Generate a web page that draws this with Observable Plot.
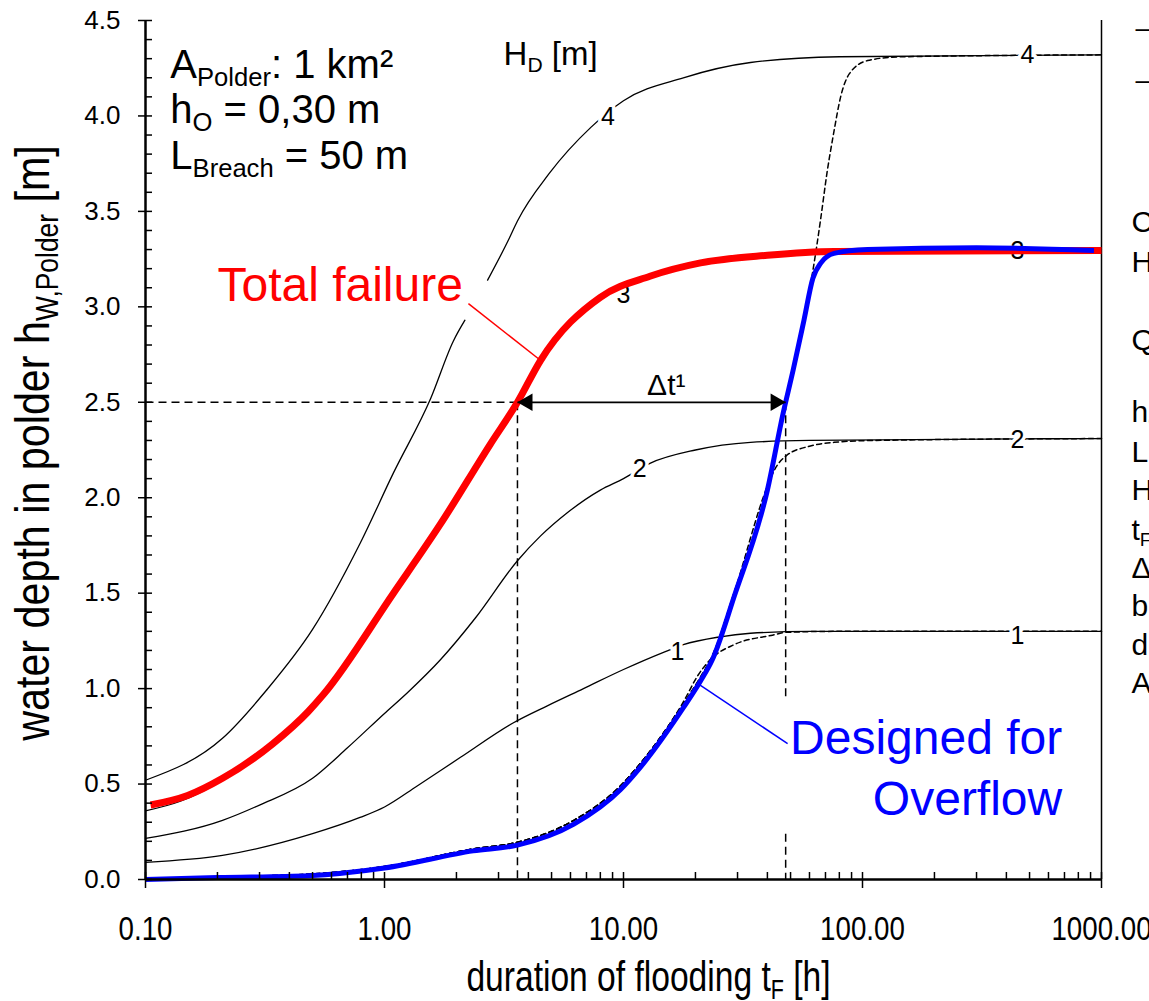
<!DOCTYPE html>
<html>
<head>
<meta charset="utf-8">
<script src="https://cdn.jsdelivr.net/npm/d3@7"></script>
<script src="https://cdn.jsdelivr.net/npm/@observablehq/plot@0.6"></script>
<style>
html,body{margin:0;padding:0;background:#fff;overflow:hidden}
</style>
</head>
<body>
<div id="chart"></div>
<script>
// ---------- fonts ----------
const SANS = "'Liberation Sans', Arial, sans-serif";

// ---------- axis ticks ----------
const xMajor = [0.1, 1, 10, 100, 1000];
const xMinor = [0.2,0.3,0.4,0.5,0.6,0.7,0.8,0.9, 2,3,4,5,6,7,8,9, 20,30,40,50,60,70,80,90, 200,300,400,500,600,700,800,900];
const yMajor = [0, 0.5, 1, 1.5, 2, 2.5, 3, 3.5, 4, 4.5];
const yMinor = [0,0.1,0.2,0.3,0.4,0.5,0.6,0.7,0.8,0.9,1,1.1,1.2,1.3,1.4,1.5,1.6,1.7,1.8,1.9,2,2.1,2.2,2.3,2.4,2.5,2.6,2.7,2.8,2.9,3,3.1,3.2,3.3,3.4,3.5,3.6,3.7,3.8,3.9,4,4.1,4.2,4.3,4.4,4.5];

// ---------- series: [t_F (h), h_W,Polder (m)] ----------
// total failure curves (thin solid) for H_D = 1..4 m
const solidHD1 = [[0.1,0.09],[0.21,0.126],[0.5,0.24],[0.79,0.325],[1.0,0.38],[1.37,0.49],[2.08,0.64],[3.45,0.82],[4.8,0.91],[6.8,1.0],[10,1.1],[14.7,1.19],[17.8,1.23],[25,1.27],[34,1.29],[60,1.3],[1000,1.3]];
const solidHD2 = [[0.1,0.215],[0.21,0.31],[0.3,0.39],[0.5,0.53],[0.7,0.69],[1.0,0.87],[1.25,0.98],[1.71,1.15],[2.4,1.37],[3.6,1.67],[4.5,1.8],[5.8,1.92],[8,2.04],[10,2.1],[12.9,2.18],[20,2.25],[34,2.29],[60,2.3],[1000,2.31]];
const solidHD3 = [[0.1,0.36],[0.14,0.41],[0.21,0.52],[0.34,0.72],[0.48,0.88],[0.556,0.97],[1.09,1.5],[1.71,1.86],[2.77,2.28],[3.6,2.5],[4.5,2.72],[8,3.05],[12.9,3.17],[21,3.24],[40,3.28],[76,3.3],[1000,3.3]];
const solidHD4 = [[0.1,0.52],[0.21,0.74],[0.32,0.99],[0.5,1.31],[0.79,1.76],[1.09,2.13],[1.56,2.52],[1.94,2.82],[2.17,2.93],[2.4,NaN],[2.7,3.14],[3.3,3.35],[3.6,3.45],[4.9,3.7],[7.3,3.94],[10,4.08],[17.8,4.2],[34,4.28],[80,4.31],[1000,4.32]];
// designed-for-overflow curves (dashed) for H_D = 1, 2, 4 m
const overflowHD1 = [[0.15,0.012],[0.48,0.028],[1.0,0.068],[2.35,0.16],[3.6,0.195],[6.2,0.31],[9.7,0.49],[11.8,0.61],[17.8,0.93],[20.5,1.07],[23,1.15],[29,1.23],[42,1.28],[48,1.295],[80,1.3],[1000,1.3]];
const overflowHD2 = [[0.15,0.012],[0.48,0.028],[1.0,0.068],[2.35,0.16],[3.6,0.195],[6.2,0.31],[9.7,0.49],[11.8,0.61],[17.8,0.92],[21,1.06],[23.5,1.17],[29,1.5],[40,2.06],[43,2.15],[48,2.22],[60,2.27],[76,2.29],[110,2.3],[1000,2.31]];
const overflowHD4 = [[0.15,0.012],[0.48,0.028],[1.0,0.068],[2.35,0.16],[3.6,0.195],[6.2,0.31],[9.7,0.49],[11.8,0.61],[17.8,0.92],[21,1.06],[23.5,1.17],[29,1.5],[40,2.06],[46.5,2.46],[51.3,2.69],[56.9,2.95],[62,3.19],[67,3.47],[71,3.7],[76,3.92],[81,4.1],[88,4.22],[105,4.29],[145,4.31],[1000,4.32]];
// highlighted curves for H_D = 3 m
const totalFailure = [[0.105,0.39],[0.15,0.44],[0.21,0.53],[0.34,0.71],[0.48,0.88],[0.556,0.97],[1.09,1.5],[1.71,1.86],[2.77,2.28],[3.6,2.5],[4.5,2.72],[8,3.05],[12.9,3.16],[21,3.23],[40,3.27],[76,3.29],[1000,3.295]];
const designedOverflow = [[0.1,0.0],[0.2,0.01],[0.48,0.02],[1.0,0.06],[2.35,0.15],[3.6,0.18],[6.2,0.29],[9.7,0.47],[11.8,0.59],[17.8,0.9],[21,1.04],[23.5,1.15],[29,1.48],[40,2.04],[46.5,2.44],[51.3,2.67],[56.9,2.93],[62,3.15],[67,3.23],[76,3.28],[105,3.3],[300,3.31],[930,3.295]];

// ---------- Δt construction ----------
const dtLevel = 2.5;
const dtStart = 3.6;     // total failure reaches 2.5 m
const dtEnd = 47.7;      // designed for overflow reaches 2.5 m
const refLines = [
  {t1: 0.1, t2: dtStart, h1: dtLevel, h2: dtLevel},
  {t1: dtStart, t2: dtStart, h1: dtLevel, h2: 0},
  {t1: dtEnd, t2: dtEnd, h1: dtLevel, h2: 0.95},
  {t1: dtEnd, t2: dtEnd, h1: 0.24, h2: 0}
];
const dtArrow = [{t1: dtStart, t2: dtEnd, h1: dtLevel, h2: dtLevel}];
const dtLabel = [{t: 15.1, h: 2.59, text: "Δt¹"}];

// ---------- labels ----------
const curveLabels = [
  {t: 8.6, h: 3.995, text: "4"}, {t: 490, h: 4.32, text: "4"},
  {t: 10, h: 3.06, text: "3"}, {t: 445, h: 3.29, text: "3"},
  {t: 11.7, h: 2.15, text: "2"}, {t: 445, h: 2.30, text: "2"},
  {t: 16.8, h: 1.19, text: "1"}, {t: 445, h: 1.275, text: "1"}
];
const infoLines = [
  {t: 0.127, h: 4.265, text: "A_{Polder}: 1 km²"},
  {t: 0.127, h: 4.03, text: "h_{O} = 0,30 m"},
  {t: 0.127, h: 3.79, text: "L_{Breach} = 50 m"}
];
const hdTitle = [{t: 3.15, h: 4.32, text: "H_{D} [m]"}];
const redLabel = [{t: 0.2, h: 3.11, text: "Total failure"}];
const redLeader = [{t1: 2.245, h1: 3.017, t2: 4.49, h2: 2.72}];
const blueLabel = [{t: 685, h: 0.738, text: "Designed for"}, {t: 685, h: 0.419, text: "Overflow"}];
const blueLeader = [{t1: 20.4, h1: 1.027, t2: 48.6, h2: 0.712}];
const xTitle = "duration of flooding t_{F} [h]";
const yTitle = "water depth in polder h_{W,Polder} [m]";
// legend at the right (cut off by the page edge)
const legendSamples = [{h: 4.46, text: "———"}, {h: 4.19, text: "———"}];
const legendLines = [
  {h: 3.442, text: "Curves for total failure"},
  {h: 3.232, text: "H_{D} = 1, 2, 3, 4 m"},
  {h: 2.823, text: "Q_{Overflow} designed"},
  {h: 2.446, text: "h_{O} = overflow height"},
  {h: 2.237, text: "L_{Breach} = breach length"},
  {h: 2.038, text: "H_{D} = dike height"},
  {h: 1.828, text: "t_{F} = duration of flooding"},
  {h: 1.629, text: "Δt¹ = time gained"},
  {h: 1.430, text: "between total failure and"},
  {h: 1.226, text: "design for overflow"},
  {h: 1.027, text: "A_{Polder} = polder area"}
];

const rec = arr => arr.map(([t, h]) => ({t, h}));

const thin = {x: "t", y: "h", stroke: "#000", strokeWidth: 1.3, curve: "monotone-x"};
const dashed = {x: "t", y: "h", stroke: "#000", strokeWidth: 1.5, strokeDasharray: "5,3.5", curve: "monotone-x"};

const chart = Plot.plot({
  width: 1149,
  height: 1001,
  marginLeft: 145,
  marginRight: 48,
  marginTop: 20,
  marginBottom: 122,
  style: {fontFamily: SANS, background: "#fff", color: "#000"},
  x: {type: "log", domain: [0.1, 1000]},
  y: {domain: [0, 4.5]},
  marks: [
    Plot.ruleX([1000], {stroke: "#000", strokeWidth: 1.5}),
    Plot.line(rec(solidHD1), thin),
    Plot.line(rec(solidHD2), thin),
    Plot.line(rec(solidHD3), thin),
    Plot.line(rec(solidHD4), thin),
    Plot.line(rec(overflowHD1), dashed),
    Plot.line(rec(overflowHD2), dashed),
    Plot.line(rec(overflowHD4), dashed),
    Plot.link(refLines, {x1: "t1", x2: "t2", y1: "h1", y2: "h2", stroke: "#000", strokeWidth: 1.5, strokeDasharray: "8,5"}),
    Plot.text(curveLabels, {x: "t", y: "h", text: "text", fontSize: 25, fontFamily: SANS, fill: "#000", stroke: "#fff", strokeWidth: 7, paintOrder: "stroke"}),
    Plot.line(rec(totalFailure), {x: "t", y: "h", stroke: "#ff0000", strokeWidth: 7, strokeLinecap: "butt", curve: "monotone-x"}),
    Plot.line(rec(designedOverflow), {x: "t", y: "h", stroke: "#0000ff", strokeWidth: 5, strokeLinecap: "butt", curve: "monotone-x"}),
    Plot.link(redLeader, {x1: "t1", x2: "t2", y1: "h1", y2: "h2", stroke: "#ff0000", strokeWidth: 1.5}),
    Plot.link(blueLeader, {x1: "t1", x2: "t2", y1: "h1", y2: "h2", stroke: "#0000ff", strokeWidth: 1.5}),
    Plot.link(dtArrow, {x1: "t1", x2: "t2", y1: "h1", y2: "h2", stroke: "#000", strokeWidth: 1.8}),
    Plot.dot([{t: dtStart, h: dtLevel}], {x: "t", y: "h", symbol: "triangle", r: 6.5, fill: "#000", stroke: null, rotate: -90, dx: 10}),
    Plot.dot([{t: dtEnd, h: dtLevel}], {x: "t", y: "h", symbol: "triangle", r: 6.5, fill: "#000", stroke: null, rotate: 90, dx: -10}),
    Plot.text(dtLabel, {x: "t", y: "h", text: "text", fontSize: 30, fontFamily: SANS, fill: "#000"}),
    Plot.text(infoLines, {x: "t", y: "h", text: "text", textAnchor: "start", fontSize: 40, fontFamily: SANS, fill: "#000"}),
    Plot.text(hdTitle, {x: "t", y: "h", text: "text", textAnchor: "start", fontSize: 33, fontFamily: SANS, fill: "#000"}),
    Plot.text(redLabel, {x: "t", y: "h", text: "text", textAnchor: "start", fontSize: 48, fontFamily: SANS, fill: "#ff0000"}),
    Plot.text(blueLabel, {x: "t", y: "h", text: "text", textAnchor: "end", fontSize: 48, fontFamily: SANS, fill: "#0000ff"}),
    // axes
    Plot.axisY(yMajor, {anchor: "left", tickSize: 7, tickPadding: 18, tickFormat: d3.format(".1f"), fontSize: 26, fontFamily: SANS, label: null, strokeWidth: 1.5}),
    Plot.axisY(yMinor, {anchor: "left", tickSize: 7, dx: 7, text: null, label: null, strokeWidth: 1.5}),
    Plot.axisX(xMajor, {anchor: "bottom", tickSize: 9, tickPadding: 28, tickFormat: d3.format(".2f"), fontSize: 33, fontFamily: SANS, label: null, strokeWidth: 1.5}),
    Plot.axisX(xMajor.concat(xMinor), {anchor: "bottom", tickSize: 7, dy: -7, text: null, label: null, strokeWidth: 1.5}),
    Plot.ruleX([0.1], {stroke: "#000", strokeWidth: 2.5}),
    Plot.ruleY([0], {stroke: "#000", strokeWidth: 2.5}),
    Plot.text([xTitle], {frameAnchor: "bottom", text: d => d, textAnchor: "middle", lineAnchor: "middle", dx: 25, dy: 97.6, fontSize: 42, fontFamily: SANS, fill: "#000"}),
    Plot.text([yTitle], {frameAnchor: "left", text: d => d, rotate: -90, textAnchor: "middle", lineAnchor: "middle", dx: -112, dy: -7, fontSize: 48, fontFamily: SANS, fill: "#000"}),
    // legend (cut off at the right edge)
    Plot.text(legendSamples, {y: "h", text: "text", frameAnchor: "right", dx: 34, textAnchor: "start", fontSize: 28, fontFamily: SANS, fill: "#000"}),
    Plot.text(legendLines, {y: "h", text: "text", frameAnchor: "right", dx: 30, textAnchor: "start", fontSize: 30, fontFamily: SANS, fill: "#000"})
  ]
});
document.getElementById("chart").appendChild(chart);

// condensed (Arial Narrow-like) look: compress a text along its own direction
function condense(t, k) {
  const tr = t.getAttribute("transform") || "";
  t.setAttribute("transform", (tr + ` scale(${k},1)`).trim());
}
chart.querySelectorAll('g[aria-label="x-axis tick label"] text').forEach(t => condense(t, 0.84));
chart.querySelectorAll("text").forEach(t => {
  const s = t.textContent;
  if (s === xTitle) condense(t, 0.80);
  else if (s === yTitle) condense(t, 0.86);
});

// subscripts written as _{...} become real tspans
function richify(svg) {
  const NS = "http://www.w3.org/2000/svg";
  svg.querySelectorAll("text").forEach(t => {
    const s = t.textContent;
    if (!s.includes("_{")) return;
    const F = parseFloat(getComputedStyle(t).fontSize) || 20;
    const parts = s.split(/(_\{[^}]*\})/).filter(p => p.length);
    while (t.firstChild) t.removeChild(t.firstChild);
    let shift = 0;
    for (const p of parts) {
      const ts = document.createElementNS(NS, "tspan");
      if (p.startsWith("_{")) {
        ts.textContent = p.slice(2, -1);
        ts.setAttribute("font-size", (0.64 * F).toFixed(1));
        ts.setAttribute("dy", (0.2 * F - shift).toFixed(1));
        shift = 0.2 * F;
      } else {
        ts.textContent = p;
        if (shift) { ts.setAttribute("dy", (-shift).toFixed(1)); shift = 0; }
      }
      t.appendChild(ts);
    }
  });
}
richify(chart);
</script>
</body>
</html>
